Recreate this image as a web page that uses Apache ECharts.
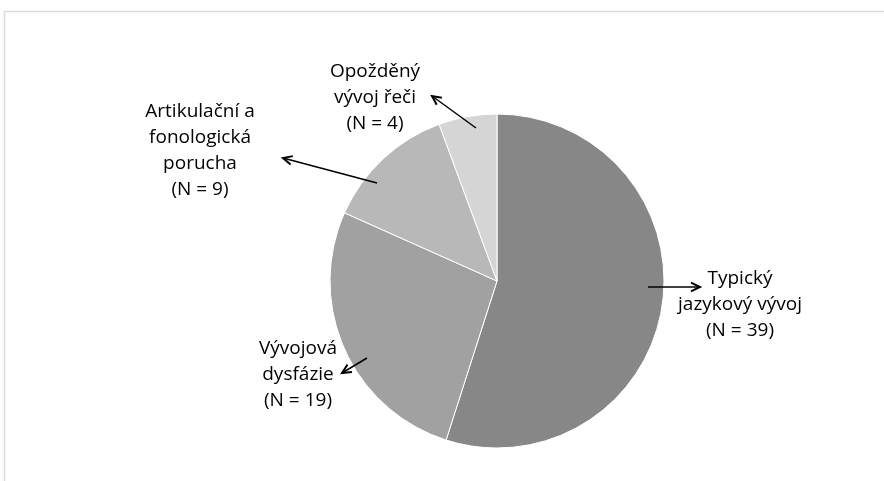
<!DOCTYPE html>
<html>
<head>
<meta charset="utf-8">
<script src="https://cdn.jsdelivr.net/npm/echarts@6/dist/echarts.min.js"></script>
<style>
  html, body { margin: 0; padding: 0; background: #fff; }
  #main { width: 884px; height: 481px; }
</style>
</head>
<body>
<div id="main"></div>
<script>
// data
let categories = ["Typický\njazykový vývoj", "Vývojová\ndysfázie", "Artikulační a\nfonologická\nporucha", "Opožděný\nvývoj řeči"];
let counts = [39, 19, 9, 4];
let sliceColors = ["#878787", "#a1a1a1", "#b8b8b8", "#d5d5d5"];

// where the labels sit (center of the text block)
let labelPos = [[740, 305], [298, 375], [200, 151], [375, 98]];
// arrows: from the slice to the label
let arrows = [
    [[648, 287], [700, 287]],
    [[367, 358], [342, 373]],
    [[377, 183], [283, 158]],
    [[476, 128], [432, 96]]
];

let chart = echarts.init(document.getElementById("main"));

function arrowGraphic(a) {
    let [p0, p1] = a;
    let ang = Math.atan2(p1[1] - p0[1], p1[0] - p0[0]);
    let len = 10, spread = 0.45;
    let h1 = [p1[0] - len * Math.cos(ang - spread), p1[1] - len * Math.sin(ang - spread)];
    let h2 = [p1[0] - len * Math.cos(ang + spread), p1[1] - len * Math.sin(ang + spread)];
    return [
        {
            type: "line",
            z: 100,
            shape: { x1: p0[0], y1: p0[1], x2: p1[0], y2: p1[1] },
            style: { stroke: "#000", lineWidth: 1.5 }
        },
        {
            type: "polyline",
            z: 100,
            shape: { points: [h1, p1, h2] },
            style: { stroke: "#000", lineWidth: 2, fill: null }
        }
    ];
}

let graphics = [
    {
        type: "rect",
        shape: { x: 4.5, y: 11.5, width: 900, height: 500 },
        style: { stroke: "#dcdcdc", lineWidth: 1.5, fill: null }
    }
];
arrows.forEach(a => { graphics = graphics.concat(arrowGraphic(a)); });

let option = {
    animation: false,
    graphic: graphics,
    series: [
        {
            type: "pie",
            center: [497, 281],
            radius: 167,
            startAngle: 90,
            clockwise: true,
            itemStyle: { borderColor: "#fff", borderWidth: 1 },
            label: {
                show: true,
                formatter: (p) => p.name + "\n(N = " + p.value + ")",
                fontFamily: "Open Sans",
                fontSize: 19,
                lineHeight: 26,
                color: "#000",
                align: "center"
            },
            labelLine: { show: false },
            labelLayout: (params) => ({
                x: labelPos[params.dataIndex][0],
                y: labelPos[params.dataIndex][1],
                align: "center",
                verticalAlign: "middle"
            }),
            emphasis: { disabled: true },
            data: categories.map((c, i) => ({
                name: c,
                value: counts[i],
                itemStyle: { color: sliceColors[i] }
            }))
        }
    ]
};

chart.setOption(option);
</script>
</body>
</html>
